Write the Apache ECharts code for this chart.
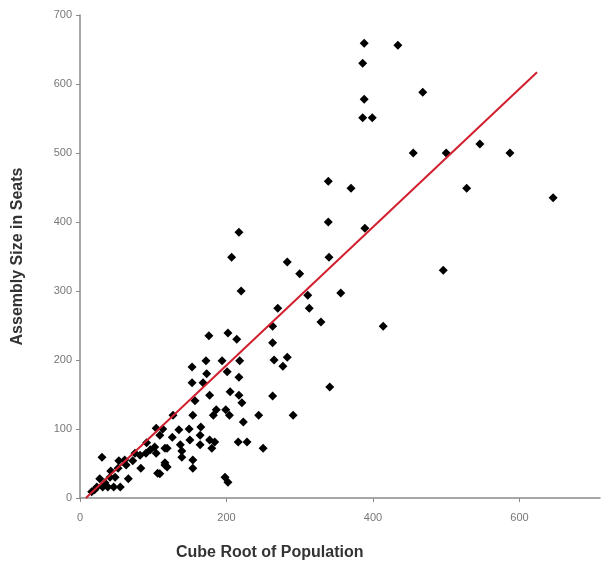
<!DOCTYPE html>
<html>
<head>
<meta charset="utf-8">
<script src="https://cdn.jsdelivr.net/npm/echarts@6/dist/echarts.min.js"></script>
<style>
  html, body { margin: 0; padding: 0; background: #fff; }
  #main { width: 601px; height: 571px; }
</style>
</head>
<body>
<div id="main"></div>
<script>
// cube root of population (x) and assembly seats (y), one entry per country
var cubeRoot = [
  30, 53, 42, 27, 34, 41, 48, 23, 31, 38, 46, 55, 66, 63, 72, 75, 82, 83, 90, 96,
  104, 106, 116, 104, 109, 116, 91, 102, 113, 126, 119, 137, 139, 52, 109, 119, 61, 16, 20,
  127, 153, 153, 168, 172, 173, 157, 154, 165, 135, 149, 164, 150, 177, 184, 164, 180,
  139, 154, 154, 116, 177, 176, 194, 201, 186, 199, 182, 204, 198, 202, 217, 207, 220,
  202, 214, 218, 217, 205, 217, 221, 223, 244, 216, 228, 250,
  283, 300, 311, 313, 270, 263, 263, 265, 283, 277, 263, 291, 339, 370, 339, 389, 340,
  496, 356, 329, 414, 341,
  388, 434, 386, 468, 388, 386, 399, 455, 500, 546, 587, 528, 646
];
var seats = [
  59, 54, 39, 28, 22, 30, 30, 16, 16, 16, 16, 16, 28, 48, 54, 65, 62, 43, 65, 70,
  65, 36, 48, 101, 91, 72, 80, 74, 100, 88, 72, 77, 68, 43, 35, 45, 55, 9, 12,
  120, 190, 167, 167, 199, 180, 141, 120, 103, 99, 100, 91, 84, 84, 81, 77, 72,
  59, 55, 43, 51, 149, 235, 199, 183, 128, 128, 120, 120, 30, 23, 385, 349, 300,
  239, 230, 199, 175, 154, 149, 138, 110, 120, 81, 81, 72,
  342, 325, 294, 275, 275, 249, 225, 200, 204, 191, 148, 120, 459, 449, 400, 391, 349,
  330, 297, 255, 249, 161,
  659, 656, 630, 588, 578, 551, 551, 500, 500, 513, 500, 449, 435
];
// fitted line end points
var fitLine = [[8, 0], [624, 617]];
var xTicks = [0, 200, 400, 600];

var points = [];
for (var i = 0; i < cubeRoot.length; i++) {
  points.push([cubeRoot[i], seats[i]]);
}

var myChart = echarts.init(document.getElementById('main'));

var option = {
  backgroundColor: '#fff',
  animation: false,
  textStyle: { fontFamily: 'Liberation Sans, Arial, sans-serif' },
  title: {
    text: 'Cube Root of Population',
    left: 176,
    top: 545,
    padding: 0,
    textStyle: { fontSize: 16, fontWeight: 'bold', color: '#333' }
  },
  grid: { left: 80, right: 1, top: 15, bottom: 73, containLabel: false },
  xAxis: {
    type: 'value',
    min: 0,
    max: 710,
    splitLine: { show: false },
    axisLine: { lineStyle: { color: '#8a8a8a', width: 1.5 } },
    axisTick: { show: true, length: 4, customValues: xTicks, lineStyle: { color: '#8a8a8a' } },
    axisLabel: { customValues: xTicks, color: '#777', fontSize: 11, margin: 14 }
  },
  yAxis: {
    type: 'value',
    min: 0,
    max: 700,
    interval: 100,
    name: 'Assembly Size in Seats',
    nameLocation: 'middle',
    nameGap: 54,
    nameTextStyle: { fontSize: 16, fontWeight: 'bold', color: '#333' },
    splitLine: { show: false },
    axisLine: { show: true, lineStyle: { color: '#8a8a8a', width: 1.5 } },
    axisTick: { show: true, length: 4, lineStyle: { color: '#8a8a8a' } },
    axisLabel: { color: '#777', fontSize: 11, margin: 8 }
  },
  series: [
    {
      type: 'scatter',
      data: points,
      symbol: 'diamond',
      symbolSize: 9,
      itemStyle: { color: '#000', opacity: 1 }
    },
    {
      type: 'line',
      data: fitLine,
      symbol: 'none',
      lineStyle: { color: '#d21f2e', width: 2 }
    }
  ]
};

myChart.setOption(option);
</script>
</body>
</html>
